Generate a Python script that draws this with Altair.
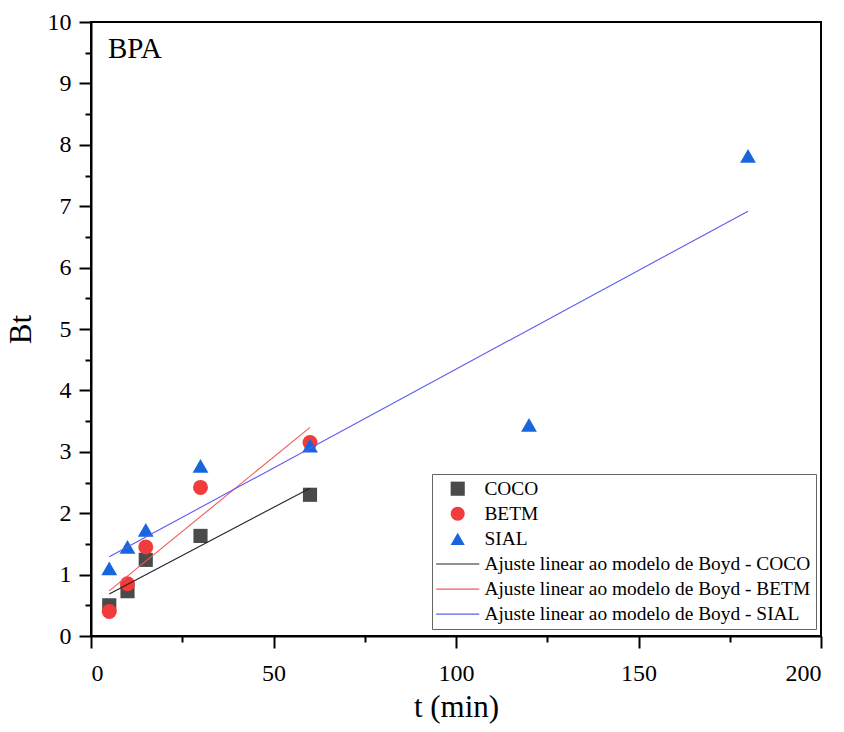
import altair as alt
import pandas as pd

# ---- data ----
t_short = [5, 10, 15, 30, 60]
coco = [0.50, 0.73, 1.24, 1.63, 2.30]
betm = [0.40, 0.85, 1.45, 2.42, 3.15]
t_sial = [5, 10, 15, 30, 60, 120, 180]
sial = [1.10, 1.45, 1.73, 2.77, 3.10, 3.44, 7.82]

series_names = ["COCO", "BETM", "SIAL"]
fit_prefix = "Ajuste linear ao modelo de Boyd - "
fit_names = [fit_prefix + s for s in series_names]
point_colors = ["#4a4a4a", "#f23b3b", "#1766dc"]
line_colors = ["#222222", "#f25a5a", "#5b5bef"]
marker_sizes = [200, 250, 360]

x_ticks = [0, 25, 50, 75, 100, 125, 150, 175, 200]
y_ticks = [i * 0.5 for i in range(21)]

rows = []
for tv, bv in zip(t_short, coco):
    rows.append({"t": tv, "Bt": bv, "series": "COCO"})
for tv, bv in zip(t_short, betm):
    rows.append({"t": tv, "Bt": bv, "series": "BETM"})
for tv, bv in zip(t_sial, sial):
    rows.append({"t": tv, "Bt": bv, "series": "SIAL"})
df = pd.DataFrame(rows)

FONT = "Liberation Serif"
domain_all = series_names + fit_names
color_scale = alt.Scale(domain=domain_all, range=point_colors + line_colors)
# thin filled bar used as the legend glyph of the fitted lines
line_glyph = "M-3.05,-0.085H3.05V0.085H-3.05Z"
shape_scale = alt.Scale(domain=domain_all,
                        range=["square", "circle", "triangle-up", line_glyph, line_glyph, line_glyph])

legend = alt.Legend(
    title=None,
    orient="none",
    legendX=341,
    legendY=452,
    direction="vertical",
    fillColor="white",
    strokeColor="#666666",
    padding=5,
    rowPadding=4.1,
    labelFont=FONT,
    labelFontSize=19.4,
    labelColor="black",
    labelLimit=500,
    labelOffset=17,
    symbolOffset=11,
    symbolSize=200,
    symbolStrokeWidth=0,
    symbolOpacity=1,
)

x_axis = alt.Axis(
    values=x_ticks,
    labelExpr="datum.value % 50 === 0 ? format(datum.value, 'd') : ''",
    tickSize={"condition": {"test": "datum.value % 50 === 0", "value": 12}, "value": 6},
    title="t (min)",
    titlePadding=7,
    labelPadding=13,
    grid=False,
    labelFont=FONT,
    labelFontSize=24,
    titleFont=FONT,
)
y_axis = alt.Axis(
    values=y_ticks,
    labelExpr="datum.value % 1 === 0 ? format(datum.value, 'd') : ''",
    tickSize={"condition": {"test": "datum.value % 1 === 0", "value": 12}, "value": 6},
    title="Bt",
    titlePadding=10,
    labelPadding=8,
    grid=False,
    labelFont=FONT,
    labelFontSize=24,
    titleFont=FONT,
)

x_scale = alt.Scale(domain=[0, 200], nice=False, zero=False)
y_scale = alt.Scale(domain=[0, 10], nice=False)

points = alt.Chart(df).mark_point(filled=True, opacity=1).encode(
    x=alt.X("t:Q", scale=x_scale, axis=x_axis),
    y=alt.Y("Bt:Q", scale=y_scale, axis=y_axis),
    color=alt.Color("series:N", scale=color_scale, legend=legend),
    shape=alt.Shape("series:N", scale=shape_scale, legend=legend),
    size=alt.Size("series:N", scale=alt.Scale(domain=series_names, range=marker_sizes), legend=None),
)

lines = (
    alt.Chart(df)
    .transform_regression("t", "Bt", groupby=["series"])
    .transform_calculate(series="'" + fit_prefix + "' + datum.series")
    .mark_line(strokeWidth=1.1)
    .encode(
        x=alt.X("t:Q", scale=x_scale, axis=x_axis),
        y=alt.Y("Bt:Q", scale=y_scale, axis=y_axis),
        color=alt.Color("series:N", scale=color_scale, legend=legend),
    )
)

label = alt.Chart(pd.DataFrame({"txt": ["BPA"]})).mark_text(
    font=FONT, fontSize=29, align="left", baseline="alphabetic", color="black"
).encode(x=alt.value(17), y=alt.value(36), text="txt:N")

chart = (
    alt.layer(points, lines, label)
    .properties(
        width=730,
        height=614,
        background="white",
        autosize=alt.AutoSizeParams(type="none"),
        padding={"left": 91, "top": 22, "right": 23, "bottom": 96},
    )
    .configure_view(stroke="black", strokeWidth=2)
    .configure_axis(
        grid=False,
        domainColor="black",
        domainWidth=2,
        tickColor="black",
        tickWidth=2,
        labelFont=FONT,
        labelFontSize=24,
        labelColor="black",
        titleFont=FONT,
        titleFontSize=31,
        titleFontWeight="normal",
        titleColor="black",
    )
)

chart.save("out.html", embed_options={"renderer": "svg", "actions": False})
